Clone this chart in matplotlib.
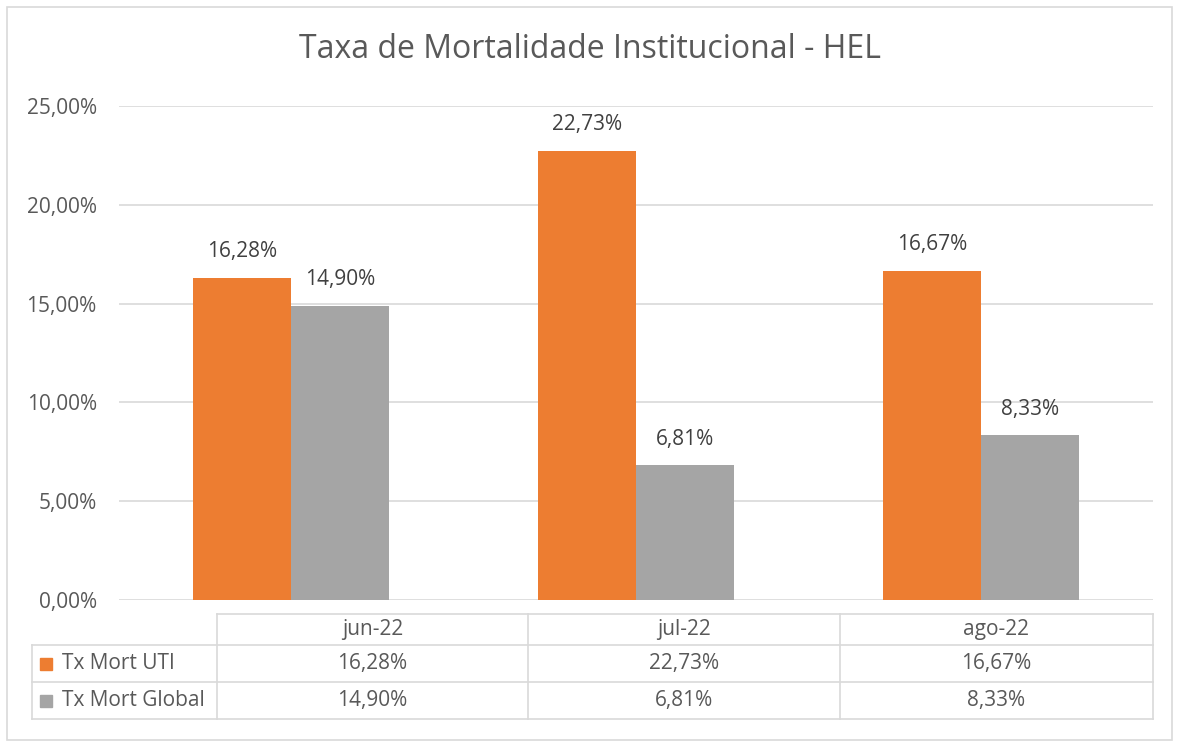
import matplotlib
matplotlib.use("Agg")
import matplotlib.pyplot as plt
from matplotlib.lines import Line2D
from matplotlib.patches import Rectangle

categories = ["jun-22", "jul-22", "ago-22"]
series_names = ["Tx Mort UTI", "Tx Mort Global"]
uti = [16.28, 22.73, 16.67]
glob = [14.90, 6.81, 8.33]
yticks = [0, 5, 10, 15, 20, 25]

ORANGE = "#ED7D31"
GRAY = "#A5A5A5"
TXT = "#595959"
LBL = "#404040"
GRID = "#D9D9D9"
FONT = ["Open Sans", "DejaVu Sans"]
plt.rcParams["font.family"] = FONT
FS = 15

W, H = 1180, 745
fig = plt.figure(figsize=(W / 100, H / 100), dpi=100)

def fx(px):
    return px / W

def fy(py):
    return 1 - py / H

def pct(v):
    return f"{v:.2f}".replace(".", ",") + "%"

# outer border
fig.patches.append(Rectangle((fx(7), fy(740)), fx(1172) - fx(7), fy(7) - fy(740),
                             transform=fig.transFigure, fill=False, edgecolor=GRID, lw=1.2))

# plot axes
x0, x1 = 119, 1153
y_top, y_bot = 106, 600
ax = fig.add_axes([fx(x0), fy(y_bot), fx(x1) - fx(x0), fy(y_top) - fy(y_bot)])
ax.set_xlim(0, 3)
ax.set_ylim(0, 25)
for s in ax.spines.values():
    s.set_visible(False)
ax.set_xticks([])
ax.set_yticks(yticks)
ax.set_yticklabels([pct(v) for v in yticks], color=TXT, fontsize=FS)
ax.tick_params(axis="y", length=0, pad=16)
ax.grid(axis="y", color=GRID, lw=1.2)
ax.set_axisbelow(True)

bw = 98 / 345
centers = [i + 0.5 for i in range(3)]
for i, c in enumerate(centers):
    ax.bar(c - bw / 2, uti[i], width=bw, color=ORANGE, zorder=3)
    ax.bar(c + bw / 2, glob[i], width=bw, color=GRAY, zorder=3)
    ax.annotate(pct(uti[i]), (c - bw / 2, uti[i]),
                xytext=(0, 19), textcoords="offset points", ha="center", va="center",
                color=LBL, fontsize=FS)
    ax.annotate(pct(glob[i]), (c + bw / 2, glob[i]),
                xytext=(0, 19), textcoords="offset points", ha="center", va="center",
                color=LBL, fontsize=FS)

fig.text(0.5, fy(50), "Taxa de Mortalidade Institucional - HEL", ha="center", va="center",
         color=TXT, fontsize=23)

# data table
cols = [217, 528, 840, 1153]
rows = [614, 645, 682, 719]
lab_left = 32

def hline(xa, xb, y):
    fig.add_artist(Line2D([fx(xa), fx(xb)], [fy(y), fy(y)], transform=fig.transFigure, color=GRID, lw=1.2))

def vline(x, ya, yb):
    fig.add_artist(Line2D([fx(x), fx(x)], [fy(ya), fy(yb)], transform=fig.transFigure, color=GRID, lw=1.2))

hline(cols[0], cols[-1], rows[0])
for y in rows[1:]:
    hline(lab_left, cols[-1], y)
vline(lab_left, rows[1], rows[3])
for x in cols:
    vline(x, rows[0], rows[3])

for j, cat in enumerate(categories):
    cx = (cols[j] + cols[j + 1]) / 2
    fig.text(fx(cx), fy((rows[0] + rows[1]) / 2), cat, ha="center", va="center", color=TXT, fontsize=FS)
    fig.text(fx(cx), fy((rows[1] + rows[2]) / 2), pct(uti[j]),
             ha="center", va="center", color=TXT, fontsize=FS)
    fig.text(fx(cx), fy((rows[2] + rows[3]) / 2), pct(glob[j]),
             ha="center", va="center", color=TXT, fontsize=FS)

for k, (name, col) in enumerate(zip(series_names, [ORANGE, GRAY])):
    yc = (rows[k + 1] + rows[k + 2]) / 2
    fig.patches.append(Rectangle((fx(40), fy(yc + 6)), fx(12), fy(0) - fy(12),
                                 transform=fig.transFigure, color=col))
    fig.text(fx(62), fy(yc), name, ha="left", va="center", color=TXT, fontsize=FS)

fig.savefig("out.png", dpi=100)
